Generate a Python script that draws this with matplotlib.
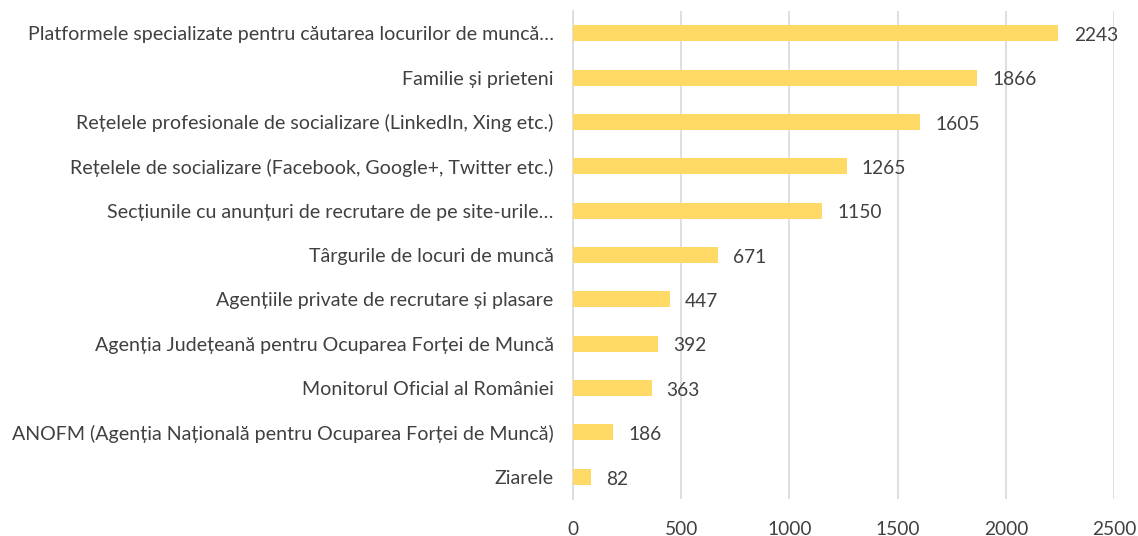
import matplotlib.pyplot as plt

# Data (top to bottom as shown)
categories = [
    'Platformele specializate pentru căutarea locurilor de muncă…',
    'Familie și prieteni',
    'Rețelele profesionale de socializare (LinkedIn, Xing etc.)',
    'Rețelele de socializare (Facebook, Google+, Twitter etc.)',
    'Secțiunile cu anunțuri de recrutare de pe site-urile…',
    'Târgurile de locuri de muncă',
    'Agențiile private de recrutare și plasare',
    'Agenția Județeană pentru Ocuparea Forței de Muncă',
    'Monitorul Oficial al României',
    'ANOFM (Agenția Națională pentru Ocuparea Forței de Muncă)',
    'Ziarele',
]
values = [2243, 1866, 1605, 1265, 1150, 671, 447, 392, 363, 186, 82]
x_ticks = [0, 500, 1000, 1500, 2000, 2500]

plt.rcParams['font.family'] = ['Lato', 'DejaVu Sans']
text_color = '#404040'
grid_color = '#D9D9D9'

fig = plt.figure(figsize=(11.38, 5.36), dpi=100)
ax = fig.add_axes([0.5035, 0.069, 0.4755, 0.9105])

pos = list(range(len(categories)))[::-1]
ax.barh(pos, values, height=0.36, color='#FFD966', zorder=3)

for p, v in zip(pos, values):
    ax.text(v + 70, p - 0.05, str(v), va='center', ha='left', fontsize=13.8, color=text_color)

ax.set_xlim(0, 2500)
ax.set_ylim(-0.5, len(categories) - 0.5)
ax.set_xticks(x_ticks)
ax.set_yticks(pos)
ax.set_yticklabels(categories)
ax.tick_params(axis='both', length=0, labelsize=13.8, labelcolor=text_color)
ax.tick_params(axis='y', pad=14, labelsize=14.1)
ax.tick_params(axis='x', pad=16)

ax.grid(axis='x', color=grid_color, linewidth=1.2, zorder=0)
for side in ['top', 'right', 'bottom']:
    ax.spines[side].set_visible(False)
ax.spines['left'].set_color(grid_color)
ax.spines['left'].set_linewidth(1.2)

fig.savefig('out.png', dpi=100)
